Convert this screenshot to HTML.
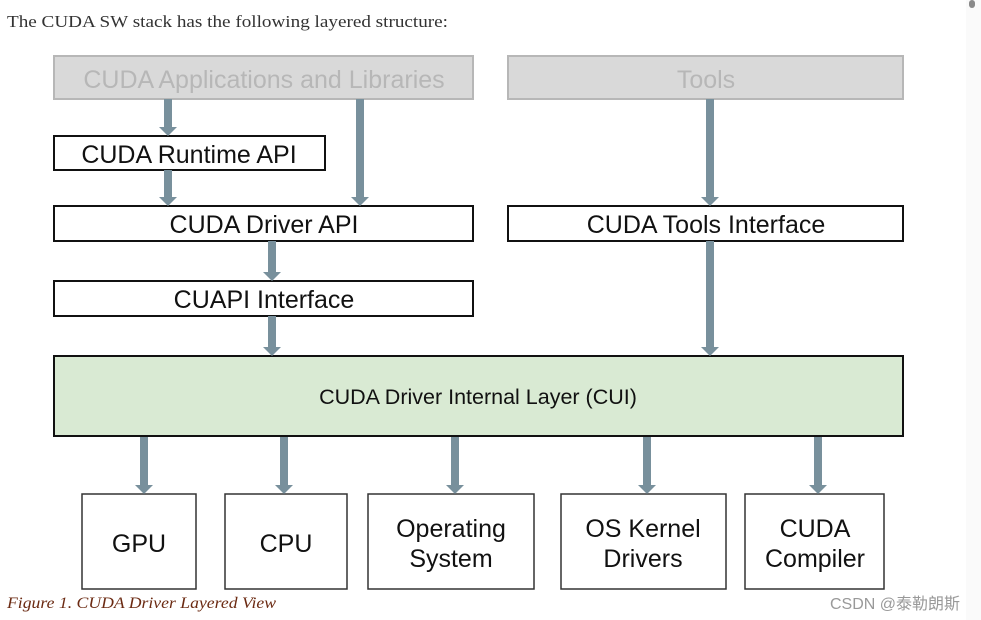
<!DOCTYPE html>
<html><head><meta charset="utf-8"><style>
html,body{margin:0;padding:0;background:#fff;width:981px;height:620px;overflow:hidden}
</style></head><body>
<svg width="981" height="620" viewBox="0 0 981 620" xmlns="http://www.w3.org/2000/svg">
<rect x="966" y="0" width="15" height="620" fill="#fafafa"/>
<rect x="969" y="0" width="6" height="8" rx="3" fill="#8a8a8a"/>
<text x="7" y="27" font-family="Liberation Serif, serif" font-size="17" fill="#333" textLength="441" lengthAdjust="spacingAndGlyphs">The CUDA SW stack has the following layered structure:</text>
<g font-family="Liberation Sans, Arial, sans-serif" text-anchor="middle">
<rect x="54" y="56" width="419" height="43" fill="#d9d9d9" stroke="#b7b7b7" stroke-width="2"/>
<text x="264" y="88" font-size="25" fill="#b7b7b7">CUDA Applications and Libraries</text>
<rect x="508" y="56" width="395" height="43" fill="#d9d9d9" stroke="#b7b7b7" stroke-width="2"/>
<text x="706" y="88" font-size="25" fill="#b7b7b7">Tools</text>
<g fill="#fff" stroke="#111" stroke-width="2">
<rect x="54" y="136" width="271" height="34"/>
<rect x="54" y="206" width="419" height="35"/>
<rect x="508" y="206" width="395" height="35"/>
<rect x="54" y="281" width="419" height="35"/>
<rect x="54" y="356" width="849" height="80" fill="#d9ead3"/>
</g>
<g fill="#fff" stroke="#333" stroke-width="1.5">
<rect x="82" y="494" width="114" height="95"/>
<rect x="225" y="494" width="122" height="95"/>
<rect x="368" y="494" width="166" height="95"/>
<rect x="561" y="494" width="165" height="95"/>
<rect x="745" y="494" width="139" height="95"/>
</g>
<g fill="#111" font-size="25">
<text x="189" y="163">CUDA Runtime API</text>
<text x="264" y="233">CUDA Driver API</text>
<text x="706" y="233">CUDA Tools Interface</text>
<text x="264" y="308">CUAPI Interface</text>
<text x="478" y="404" font-size="21.5">CUDA Driver Internal Layer (CUI)</text>
<text x="139" y="552">GPU</text>
<text x="286" y="552">CPU</text>
<text x="451" y="537">Operating</text>
<text x="451" y="567">System</text>
<text x="643" y="537">OS Kernel</text>
<text x="643" y="567">Drivers</text>
<text x="815" y="537">CUDA</text>
<text x="815" y="567">Compiler</text>
</g>
</g>
<g fill="#78909c">
<path d="M164 99H172V127H177L168 136L159 127H164Z"/>
<path d="M356 99H364V197H369L360 206L351 197H356Z"/>
<path d="M706 99H714V197H719L710 206L701 197H706Z"/>
<path d="M164 170H172V197H177L168 206L159 197H164Z"/>
<path d="M268 241H276V272H281L272 281L263 272H268Z"/>
<path d="M268 316H276V347H281L272 356L263 347H268Z"/>
<path d="M706 241H714V347H719L710 356L701 347H706Z"/>
<path d="M140 437H148V485H153L144 494L135 485H140Z"/>
<path d="M280 437H288V485H293L284 494L275 485H280Z"/>
<path d="M451 437H459V485H464L455 494L446 485H451Z"/>
<path d="M643 437H651V485H656L647 494L638 485H643Z"/>
<path d="M814 437H822V485H827L818 494L809 485H814Z"/>
</g>
<text x="7" y="608" font-family="Liberation Serif, serif" font-style="italic" font-size="16" fill="#6b2a12" textLength="269" lengthAdjust="spacingAndGlyphs">Figure 1. CUDA Driver Layered View</text>
<text x="830" y="609" font-family="Liberation Sans, 'Noto Sans CJK SC', sans-serif" font-size="16" fill="#999">CSDN @泰勒朗斯</text>
</svg>
</body></html>
